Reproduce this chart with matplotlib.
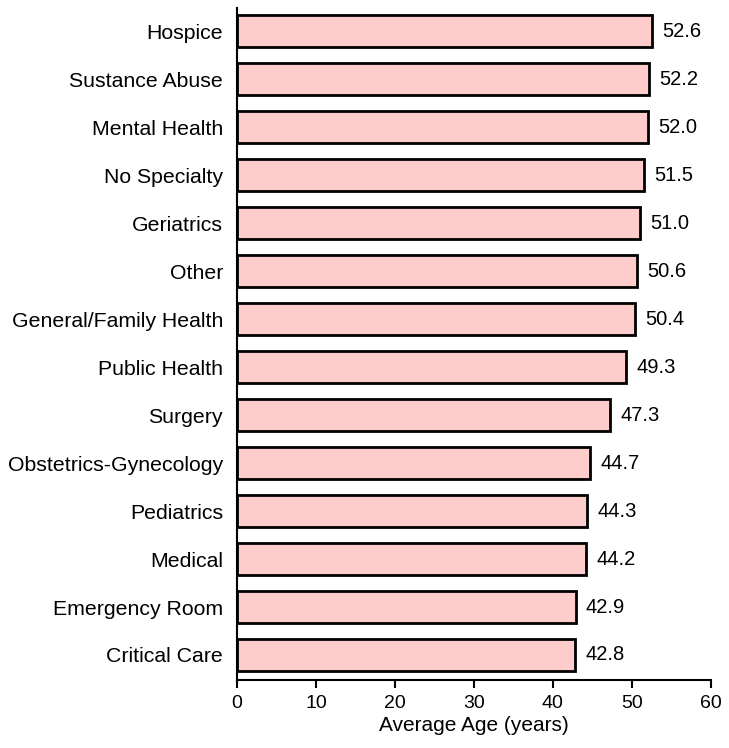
import matplotlib.pyplot as plt
import numpy as np

plt.rcParams['font.family'] = ['Liberation Sans', 'DejaVu Sans']

categorias = ["Hospice", "Sustance Abuse", "Mental Health", "No Specialty",
              "Geriatrics", "Other", "General/Family Health", "Public Health",
              "Surgery", "Obstetrics-Gynecology", "Pediatrics", "Medical",
              "Emergency Room", "Critical Care"]
edades = [52.6, 52.2, 52.0, 51.5, 51.0, 50.6, 50.4, 49.3, 47.3, 44.7,
          44.3, 44.2, 42.9, 42.8]
ticks_x = [0, 10, 20, 30, 40, 50, 60]

fig = plt.figure(figsize=(7.29, 7.48), dpi=100)
ax = fig.add_axes([0.325, 0.091, 0.65, 0.898])

y = np.arange(len(categorias))[::-1]
ax.barh(y, edades, height=0.67, color='#FFCCCC', edgecolor='black', linewidth=2)

# Etiquetas de valor junto a cada barra
for yi, v in zip(y, edades):
    ax.text(v + 1.3, yi, f"{v:.1f}", va='center', ha='left', fontsize=14.5)

ax.set_xlim(0, 60)
ax.set_ylim(-0.52, len(categorias) - 0.52)
ax.set_xticks(ticks_x)
ax.set_yticks(y)
ax.set_yticklabels(categorias, fontsize=15.3)
ax.tick_params(axis='y', length=0, pad=10)
ax.tick_params(axis='x', length=6, width=1.5, labelsize=14, direction='out', pad=5)
ax.set_xlabel("Average Age (years)", fontsize=15, labelpad=3)

for s in ['top', 'right']:
    ax.spines[s].set_visible(False)
for s in ['left', 'bottom']:
    ax.spines[s].set_linewidth(1.5)

fig.savefig("out.png", dpi=100)
